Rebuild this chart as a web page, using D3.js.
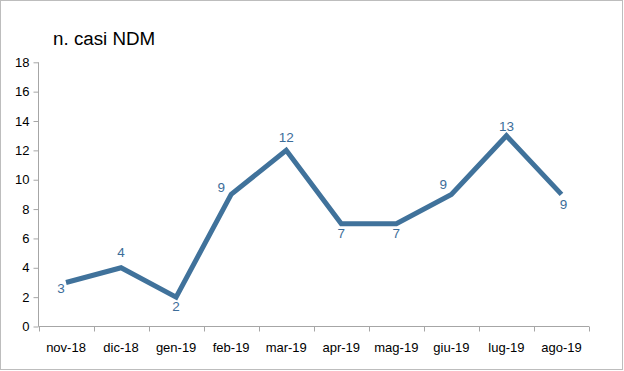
<!DOCTYPE html>
<html>
<head>
<meta charset="utf-8">
<script src="https://cdn.jsdelivr.net/npm/d3@7"></script>
<style>
  html, body { margin: 0; padding: 0; background: #fff; }
  svg { display: block; }
</style>
</head>
<body>
<svg id="chart" width="624" height="371"></svg>
<script>
// ---- data ----
const categories = ["nov-18", "dic-18", "gen-19", "feb-19", "mar-19", "apr-19", "mag-19", "giu-19", "lug-19", "ago-19"];
const values = [3, 4, 2, 9, 12, 7, 7, 9, 13, 9];
const yTicks = [0, 2, 4, 6, 8, 10, 12, 14, 16, 18];
const title = "n. casi NDM";

// ---- label placement (style) ----
const labelOffsets = [[-5, 11], [0, -11], [0, 14], [-10, -2], [0, -8], [0, 14], [0, 14], [-8, -5], [0, -5], [2, 15]];

const svg = d3.select("#chart");
const font = "'Liberation Sans', Arial, sans-serif";
const lineColor = "#40729b";
const axisColor = "#a6a6a6";

svg.append("rect")
  .attr("x", 0.5).attr("y", 0.5)
  .attr("width", 622).attr("height", 369)
  .attr("fill", "#fff").attr("stroke", "#bdbdbd").attr("stroke-width", 1);

const x = d3.scaleBand().domain(categories).range([38.5, 589]).paddingInner(0).paddingOuter(0);
const y = d3.scaleLinear().domain([0, 18]).range([326.5, 62.3]);

// title
svg.append("text")
  .attr("x", 53).attr("y", 44.5)
  .attr("font-family", font).attr("font-size", "18.8px").attr("fill", "#000")
  .text(title);

// y axis
const yAxis = d3.axisLeft(y).tickValues(yTicks).tickSize(5).tickPadding(4).tickFormat(d3.format("d"));
const gy = svg.append("g").attr("transform", "translate(38.5,0)").call(yAxis);
gy.select(".domain").attr("stroke", axisColor).attr("d", `M0,${y(18)}V${y(0)}`);
gy.selectAll(".tick line").attr("stroke", axisColor);
gy.selectAll(".tick text").attr("font-family", font).attr("font-size", "13px").attr("fill", "#000");

// x axis
const gx = svg.append("g").attr("transform", `translate(0,${y(0)})`);
gx.append("line")
  .attr("x1", x.range()[0]).attr("x2", x.range()[1])
  .attr("stroke", axisColor);
const boundaries = categories.map(c => x(c)).concat([x.range()[1]]);
gx.selectAll("line.tk").data(boundaries).enter().append("line")
  .attr("class", "tk")
  .attr("x1", d => Math.round(d) + 0.5).attr("x2", d => Math.round(d) + 0.5)
  .attr("y1", 0).attr("y2", 5)
  .attr("stroke", axisColor);
gx.selectAll("text").data(categories).enter().append("text")
  .attr("x", d => x(d) + x.bandwidth() / 2)
  .attr("y", 25)
  .attr("text-anchor", "middle")
  .attr("font-family", font).attr("font-size", "13px").attr("fill", "#000")
  .text(d => d);

// line
const pts = categories.map((c, i) => ({ c, v: values[i], i }));
const line = d3.line().x(d => x(d.c) + x.bandwidth() / 2).y(d => y(d.v));
svg.append("path")
  .datum(pts)
  .attr("d", line)
  .attr("fill", "none")
  .attr("stroke", lineColor)
  .attr("stroke-width", 5)
  .attr("stroke-linejoin", "miter")
  .attr("stroke-linecap", "butt");

// data labels
svg.selectAll("text.lbl").data(pts).enter().append("text")
  .attr("class", "lbl")
  .attr("x", d => x(d.c) + x.bandwidth() / 2 + labelOffsets[d.i][0])
  .attr("y", d => y(d.v) + labelOffsets[d.i][1])
  .attr("text-anchor", "middle")
  .attr("font-family", font).attr("font-size", "13.5px").attr("fill", "#3c6d99")
  .text(d => d.v);
</script>
</body>
</html>
